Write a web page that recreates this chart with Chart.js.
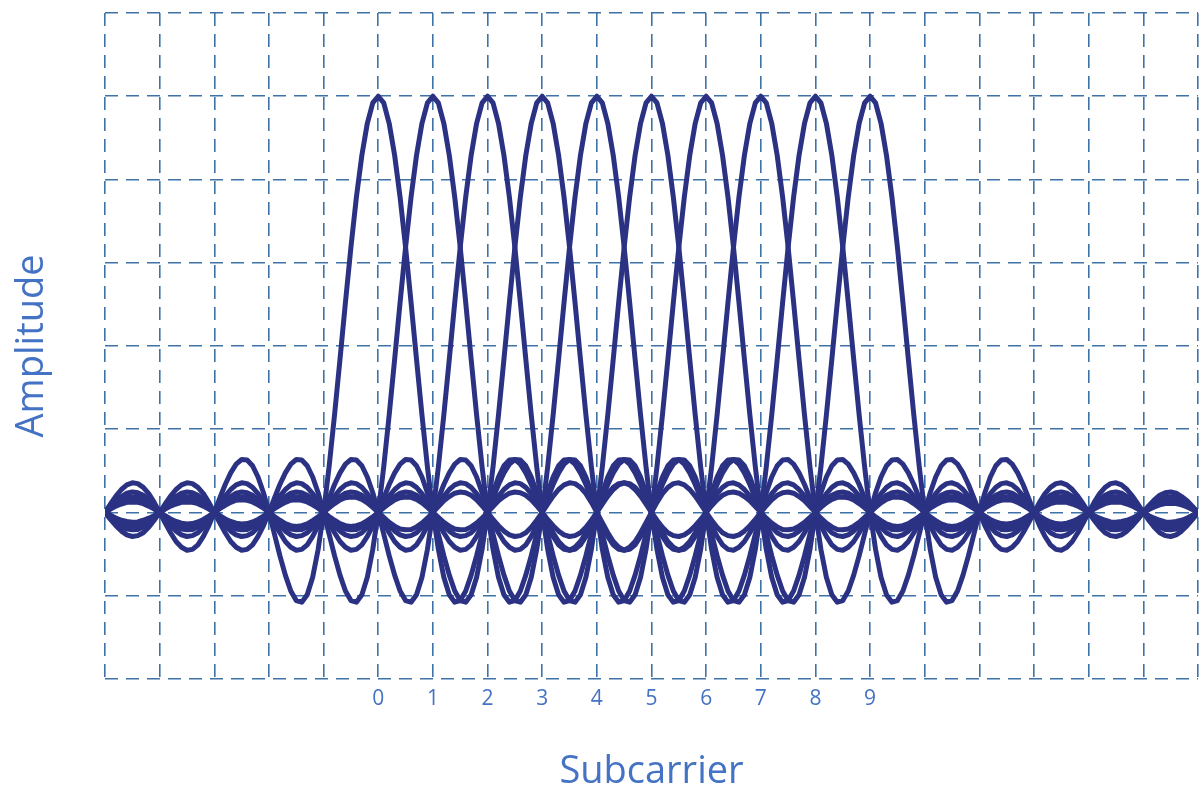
<!DOCTYPE html>
<html>
<head>
<meta charset="utf-8">
<title>Subcarrier spectrum</title>
<script src="https://cdn.jsdelivr.net/npm/chart.js@4/dist/chart.umd.min.js"></script>
<style>
  html, body { margin: 0; padding: 0; background: #ffffff; overflow: hidden; }
  canvas { display: block; }
</style>
</head>
<body>
<canvas id="chart" width="1199" height="791"></canvas>
<script>
// Amplitude of one subcarrier pulse at |offset| = 0, 0.1, 0.2 ... 15.0 subcarrier spacings
const pulseShape = [
  1.000, 0.984, 0.935, 0.858, 0.757, 0.637, 0.505, 0.368, 0.234, 0.109,
  0.000, -0.089, -0.156, -0.198, -0.216, -0.212, -0.189, -0.151, -0.104, -0.052,
  0.000, 0.047, 0.085, 0.112, 0.126, 0.127, 0.116, 0.095, 0.067, 0.034,
  0.000, -0.032, -0.058, -0.078, -0.089, -0.091, -0.084, -0.070, -0.049, -0.025,
  0.000, 0.024, 0.045, 0.060, 0.069, 0.071, 0.066, 0.055, 0.039, 0.020,
  0.000, -0.019, -0.036, -0.049, -0.056, -0.058, -0.054, -0.045, -0.032, -0.017,
  0.000, 0.016, 0.030, 0.041, 0.047, 0.049, 0.046, 0.038, 0.028, 0.014,
  0.000, -0.014, -0.026, -0.035, -0.041, -0.042, -0.040, -0.033, -0.024, -0.012,
  0.000, 0.012, 0.023, 0.031, 0.036, 0.037, 0.035, 0.030, 0.021, 0.011,
  0.000, -0.011, -0.020, -0.028, -0.032, -0.034, -0.032, -0.027, -0.019, -0.010,
  0.000, 0.010, 0.018, 0.025, 0.029, 0.030, 0.029, 0.024, 0.017, 0.009,
  0.000, -0.009, -0.017, -0.023, -0.027, -0.028, -0.026, -0.022, -0.016, -0.008,
  0.000, 0.008, 0.015, 0.021, 0.024, 0.025, 0.024, 0.020, 0.015, 0.008,
  0.000, -0.008, -0.014, -0.019, -0.023, -0.024, -0.022, -0.019, -0.014, -0.007,
  0.000, 0.007, 0.013, 0.018, 0.021, 0.022, 0.021, 0.018, 0.013, 0.007,
  0.000
];
const pulseStepsPerUnit = 10;          // table resolution: 10 samples per subcarrier spacing

// Subcarrier centre frequencies and the labels printed under them
const subcarrierCentres = [0, 1, 2, 3, 4, 5, 6, 7, 8, 9];
const subcarrierLabels  = ['0', '1', '2', '3', '4', '5', '6', '7', '8', '9'];

// Visible frequency span and amplitude span
const frequencySpan = [-5, 15];
const amplitudeSpan = [-0.4, 1.2];

const lineColour = '#2b3283';
const gridColour = '#3f72a6';
const textColour = '#4472c4';
const fontFamily = "'Open Sans', 'Liberation Sans', sans-serif";

// One dataset per subcarrier: the tabulated pulse centred on that subcarrier
const datasets = subcarrierCentres.map(function (centre) {
  const points = [];
  const first = frequencySpan[0] * pulseStepsPerUnit;
  const last = frequencySpan[1] * pulseStepsPerUnit;
  for (let s = first; s <= last; s++) {
    const idx = Math.abs(s - centre * pulseStepsPerUnit);
    points.push({ x: s / pulseStepsPerUnit, y: pulseShape[idx] });
  }
  return {
    label: 'Subcarrier ' + centre,
    data: points,
    borderColor: lineColour,
    borderWidth: 5,
    borderJoinStyle: 'round',
    borderCapStyle: 'round',
    pointRadius: 0,
    tension: 0,
    fill: false
  };
});

new Chart(document.getElementById('chart'), {
  type: 'line',
  data: { datasets: datasets },
  options: {
    responsive: false,
    animation: false,
    events: [],
    layout: { padding: { top: 13, right: 1, bottom: 0, left: 0 } },
    plugins: {
      legend: { display: false },
      tooltip: { enabled: false }
    },
    scales: {
      x: {
        type: 'linear',
        min: frequencySpan[0],
        max: frequencySpan[1],
        border: { display: false, dash: [13, 8] },
        grid: {
          color: gridColour,
          lineWidth: 1.6,
          drawTicks: true,
          tickLength: 8,
          tickColor: 'rgba(0,0,0,0)'
        },
        ticks: {
          stepSize: 1,
          autoSkip: false,
          maxRotation: 0,
          padding: 0,
          color: textColour,
          font: { family: fontFamily, size: 21 },
          callback: function (value) {
            const i = subcarrierCentres.indexOf(value);
            return i >= 0 ? subcarrierLabels[i] : '';
          }
        },
        title: {
          display: true,
          text: 'Subcarrier',
          color: textColour,
          font: { family: fontFamily, size: 38, lineHeight: 1 },
          padding: { top: 41, bottom: 0 }
        }
      },
      y: {
        type: 'linear',
        min: amplitudeSpan[0],
        max: amplitudeSpan[1],
        border: { display: false, dash: [13, 8] },
        grid: { color: gridColour, lineWidth: 1.6, drawTicks: false },
        ticks: { display: false, stepSize: 0.2 },
        title: {
          display: true,
          text: 'Amplitude',
          color: textColour,
          font: { family: fontFamily, size: 38, lineHeight: 1 },
          padding: { top: 13, bottom: 54 }
        }
      }
    }
  }
});
</script>
</body>
</html>
